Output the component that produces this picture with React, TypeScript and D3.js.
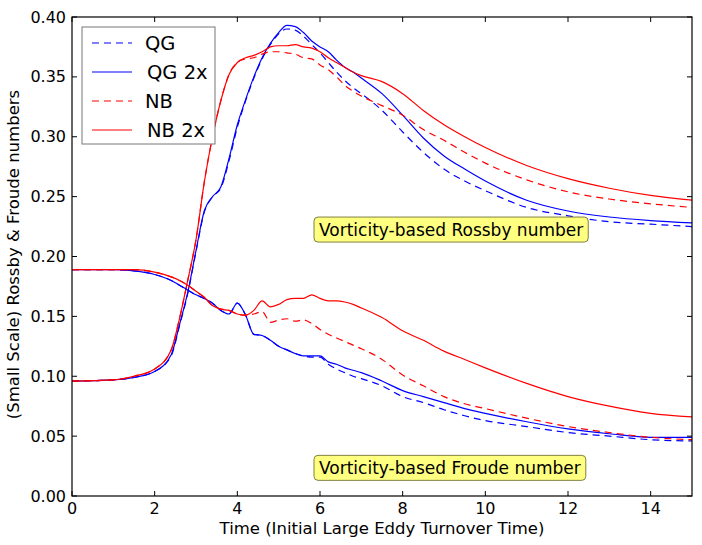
import React, { useEffect, useRef } from 'react';
import * as d3 from 'd3';

// time samples shared by every curve (initial large eddy turnover times)
const times = [0, 1, 1.5, 2, 2.4, 2.6, 2.8, 3.0, 3.2, 3.4, 3.6, 3.8, 4.0, 4.2, 4.4, 4.6, 4.8, 5.0, 5.2, 5.4, 5.6, 5.8, 6.0, 6.2, 6.4, 6.6, 6.8, 7.0, 7.5, 8, 8.5, 9, 9.5, 10, 11, 12, 13, 14, 15];

// vorticity-based Rossby number
const rossbyQG = [0.096, 0.097, 0.099, 0.104, 0.117, 0.142, 0.169, 0.204, 0.237, 0.250, 0.257, 0.280, 0.308, 0.330, 0.349, 0.365, 0.377, 0.386, 0.390, 0.389, 0.384, 0.377, 0.370, 0.362, 0.354, 0.347, 0.341, 0.336, 0.322, 0.304, 0.287, 0.273, 0.263, 0.255, 0.241, 0.234, 0.229, 0.227, 0.225];
const rossbyQG2x = [0.096, 0.097, 0.099, 0.104, 0.118, 0.143, 0.170, 0.205, 0.238, 0.250, 0.258, 0.282, 0.310, 0.331, 0.350, 0.366, 0.378, 0.387, 0.393, 0.392, 0.387, 0.380, 0.375, 0.371, 0.364, 0.358, 0.354, 0.349, 0.336, 0.318, 0.299, 0.284, 0.273, 0.263, 0.247, 0.238, 0.233, 0.230, 0.228];
const rossbyNB = [0.096, 0.097, 0.100, 0.106, 0.122, 0.148, 0.180, 0.214, 0.262, 0.300, 0.330, 0.352, 0.362, 0.365, 0.366, 0.369, 0.371, 0.371, 0.370, 0.369, 0.366, 0.365, 0.360, 0.356, 0.350, 0.343, 0.338, 0.334, 0.326, 0.318, 0.306, 0.297, 0.287, 0.278, 0.264, 0.254, 0.248, 0.244, 0.241];
const rossbyNB2x = [0.096, 0.097, 0.100, 0.106, 0.122, 0.148, 0.180, 0.214, 0.262, 0.300, 0.330, 0.352, 0.362, 0.366, 0.368, 0.371, 0.375, 0.376, 0.376, 0.377, 0.375, 0.374, 0.371, 0.366, 0.362, 0.358, 0.354, 0.351, 0.346, 0.336, 0.322, 0.310, 0.300, 0.291, 0.276, 0.265, 0.257, 0.251, 0.247];

// vorticity-based Froude number
const froudeQG = [0.189, 0.189, 0.188, 0.185, 0.180, 0.176, 0.172, 0.168, 0.165, 0.161, 0.155, 0.152, 0.161, 0.151, 0.135, 0.134, 0.130, 0.125, 0.122, 0.119, 0.117, 0.116, 0.116, 0.110, 0.106, 0.103, 0.100, 0.098, 0.092, 0.083, 0.078, 0.072, 0.067, 0.063, 0.058, 0.053, 0.050, 0.047, 0.046];
const froudeQG2x = [0.189, 0.189, 0.188, 0.185, 0.180, 0.176, 0.172, 0.168, 0.165, 0.161, 0.155, 0.152, 0.161, 0.151, 0.135, 0.134, 0.130, 0.125, 0.122, 0.119, 0.117, 0.117, 0.117, 0.112, 0.110, 0.107, 0.105, 0.103, 0.096, 0.088, 0.083, 0.078, 0.073, 0.069, 0.062, 0.056, 0.052, 0.049, 0.049];
const froudeNB = [0.189, 0.189, 0.189, 0.187, 0.183, 0.180, 0.176, 0.171, 0.166, 0.159, 0.156, 0.155, 0.152, 0.151, 0.152, 0.154, 0.145, 0.147, 0.148, 0.146, 0.147, 0.144, 0.139, 0.135, 0.132, 0.129, 0.126, 0.123, 0.114, 0.101, 0.092, 0.083, 0.077, 0.073, 0.065, 0.058, 0.053, 0.049, 0.047];
const froudeNB2x = [0.189, 0.189, 0.189, 0.187, 0.183, 0.180, 0.176, 0.171, 0.166, 0.159, 0.156, 0.155, 0.152, 0.151, 0.155, 0.163, 0.158, 0.160, 0.164, 0.165, 0.165, 0.168, 0.165, 0.163, 0.163, 0.162, 0.160, 0.157, 0.149, 0.138, 0.130, 0.121, 0.114, 0.107, 0.094, 0.083, 0.075, 0.069, 0.066];

const xTicks = [0, 2, 4, 6, 8, 10, 12, 14];
const yTicks = [0, 0.05, 0.1, 0.15, 0.2, 0.25, 0.3, 0.35, 0.4];

const legendLabels = ['QG', 'QG 2x', 'NB', 'NB 2x'];
const annotations = ['Vorticity-based Rossby number', 'Vorticity-based Froude number'];

const font = 'DejaVu Sans, sans-serif';

const App = () => {
  const chartRef = useRef<SVGSVGElement | null>(null);

  useEffect(() => {
    const svg = d3.select(chartRef.current);
    svg.selectAll('*').remove();

    const margin = { top: 17, right: 10, bottom: 49, left: 72 };
    const width = 702 - margin.left - margin.right;
    const height = 545 - margin.top - margin.bottom;

    const g = svg.append('g').attr('transform', 'translate(' + margin.left + ',' + margin.top + ')');

    const x = d3.scaleLinear().domain([0, 15]).range([0, width]);
    const y = d3.scaleLinear().domain([0, 0.4]).range([height, 0]);

    // series: [values, color, dashed]
    const series: [number[], string, boolean][] = [
      [rossbyQG, '#0000ff', true],
      [rossbyQG2x, '#0000ff', false],
      [rossbyNB, '#ff0000', true],
      [rossbyNB2x, '#ff0000', false],
      [froudeQG, '#0000ff', true],
      [froudeQG2x, '#0000ff', false],
      [froudeNB, '#ff0000', true],
      [froudeNB2x, '#ff0000', false],
    ];

    const line = d3.line<number>()
      .x((d, i) => x(times[i]))
      .y(d => y(d))
      .curve(d3.curveMonotoneX);

    g.append('defs').append('clipPath').attr('id', 'plotclip')
      .append('rect').attr('width', width).attr('height', height);

    const lines = g.append('g').attr('clip-path', 'url(#plotclip)');
    series.forEach(([vals, color, dashed]) => {
      lines.append('path')
        .attr('d', line(vals))
        .attr('fill', 'none')
        .attr('stroke', color)
        .attr('stroke-width', 1.2)
        .attr('stroke-dasharray', dashed ? '7,5' : null);
    });

    // annotation boxes
    const boxAt = [[6, 0.2225], [6, 0.0235]];
    annotations.forEach((txt, i) => {
      const bx = x(boxAt[i][0]) - 1;
      const by = y(boxAt[i][1]);
      const t = g.append('text')
        .attr('x', bx)
        .attr('y', by)
        .attr('dy', '0.35em')
        .attr('font-family', font)
        .attr('font-size', 17)
        .text(txt);
      const bb = (t.node() as SVGTextElement).getBBox();
      g.insert('rect', 'text')
        .attr('x', bb.x - 5)
        .attr('y', by - 12.5)
        .attr('width', bb.width + 10)
        .attr('height', 25)
        .attr('rx', 4)
        .attr('fill', '#ffff80')
        .attr('stroke', '#808040')
        .attr('stroke-width', 1);
    });

    // frame
    g.append('rect')
      .attr('width', width)
      .attr('height', height)
      .attr('fill', 'none')
      .attr('stroke', '#000')
      .attr('stroke-width', 1.2);

    // inward ticks on all sides
    const ticks = g.append('g').attr('stroke', '#000').attr('stroke-width', 1);
    xTicks.forEach(v => {
      ticks.append('line').attr('x1', x(v)).attr('x2', x(v)).attr('y1', height).attr('y2', height - 5);
      ticks.append('line').attr('x1', x(v)).attr('x2', x(v)).attr('y1', 0).attr('y2', 5);
    });
    yTicks.forEach(v => {
      ticks.append('line').attr('x1', 0).attr('x2', 5).attr('y1', y(v)).attr('y2', y(v));
      ticks.append('line').attr('x1', width).attr('x2', width - 5).attr('y1', y(v)).attr('y2', y(v));
    });

    g.selectAll('.xl').data(xTicks).enter().append('text')
      .attr('x', d => x(d))
      .attr('y', height + 18)
      .attr('text-anchor', 'middle')
      .attr('font-family', font)
      .attr('font-size', 16)
      .text(d => d3.format('d')(d));

    g.selectAll('.yl').data(yTicks).enter().append('text')
      .attr('x', -6)
      .attr('y', d => y(d))
      .attr('dy', '0.35em')
      .attr('text-anchor', 'end')
      .attr('font-family', font)
      .attr('font-size', 16)
      .text(d => d3.format('.2f')(d));

    g.append('text')
      .attr('x', width / 2)
      .attr('y', height + 38)
      .attr('text-anchor', 'middle')
      .attr('font-family', font)
      .attr('font-size', 16.5)
      .text('Time (Initial Large Eddy Turnover Time)');

    g.append('text')
      .attr('transform', 'translate(' + (-53) + ',' + (height / 2 - 2) + ') rotate(-90)')
      .attr('text-anchor', 'middle')
      .attr('font-family', font)
      .attr('font-size', 16.5)
      .text('(Small Scale) Rossby & Froude numbers');

    // legend
    const lg = g.append('g').attr('transform', 'translate(10,10)');
    lg.append('rect')
      .attr('width', 133)
      .attr('height', 117)
      .attr('fill', '#fff')
      .attr('stroke', '#777')
      .attr('stroke-width', 1);
    legendLabels.forEach((lab, i) => {
      const [, color, dashed] = series[i];
      const ly = 16 + i * 29;
      lg.append('line')
        .attr('x1', 10).attr('x2', 50)
        .attr('y1', ly).attr('y2', ly)
        .attr('stroke', color)
        .attr('stroke-width', 1.2)
        .attr('stroke-dasharray', dashed ? '7,5' : null);
      lg.append('text')
        .attr('x', i % 2 === 0 ? 63 : 65)
        .attr('y', ly)
        .attr('dy', '0.35em')
        .attr('font-family', font)
        .attr('font-size', 19.5)
        .text(lab);
    });
  }, []);

  return (
    <div style={{ position: 'absolute', left: 0, top: 0, width: 702, height: 545, background: '#fff' }}>
      <svg ref={chartRef} width={702} height={545} style={{ display: 'block' }} />
    </div>
  );
};

export default App;
